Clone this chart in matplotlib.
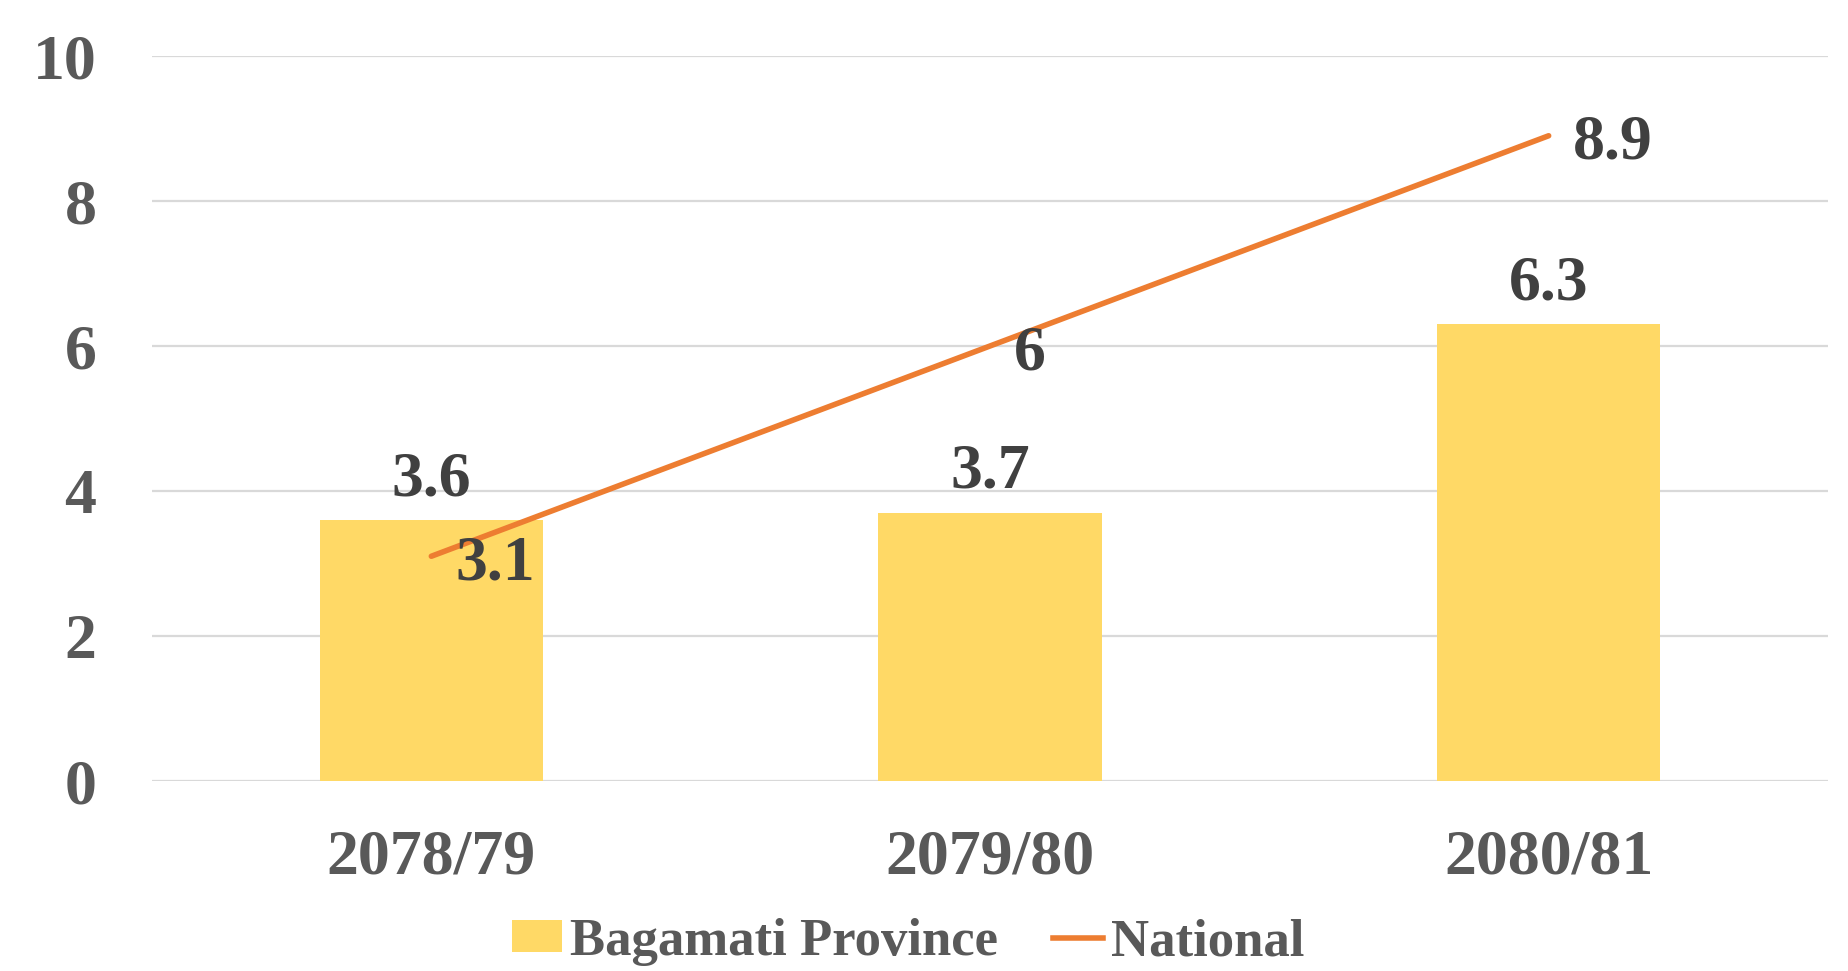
import matplotlib
matplotlib.use("Agg")
import matplotlib.pyplot as plt
from matplotlib.patches import Patch
from matplotlib.lines import Line2D

categories = ["2078/79", "2079/80", "2080/81"]
bagamati = [3.6, 3.7, 6.3]
national = [3.1, 6.0, 8.9]
national_labels = ["3.1", "6", "8.9"]
bagamati_labels = ["3.6", "3.7", "6.3"]
yticks = [0, 2, 4, 6, 8, 10]

BAR = "#FFD966"
LINE = "#ED7D31"
TICK = "#595959"
LABEL = "#404040"
FONT = ["Liberation Serif", "DejaVu Serif"]

plt.rcParams["font.family"] = FONT
plt.rcParams["font.weight"] = "bold"

fig = plt.figure(figsize=(18.48, 9.71), dpi=100)
ax = fig.add_axes([152/1848, 1-781/971, (1828-152)/1848, (781-56)/971])

x = list(range(len(categories)))
ax.bar(x, bagamati, width=0.4, color=BAR, zorder=2)
ax.plot(x, national, color=LINE, lw=4.0, solid_capstyle="round", zorder=3)

ax.set_xlim(-0.5, 2.5)
ax.set_ylim(0, 10)
ax.set_yticks(yticks)
ax.set_yticklabels([str(v) for v in yticks])
ax.set_xticks(x)
ax.set_xticklabels(categories)
ax.grid(axis="y", color="#D9D9D9", lw=1.6, zorder=0)
ax.set_axisbelow(True)
for s in ax.spines.values():
    s.set_visible(False)
ax.tick_params(axis="both", length=0, labelsize=46, labelcolor=TICK)
ax.tick_params(axis="y", pad=40)
ax.tick_params(axis="x", pad=35)
for lab in ax.get_xticklabels() + ax.get_yticklabels():
    lab.set_fontweight("bold")

for xi, v, t in zip(x, bagamati, bagamati_labels):
    ax.annotate(t, (xi, v), xytext=(0, 25), textcoords="offset pixels",
                ha="center", va="baseline", fontsize=46, fontweight="bold",
                color=LABEL, zorder=4)
for xi, v, t in zip(x, national, national_labels):
    ax.annotate(t, (xi, v), xytext=(24, -23), textcoords="offset pixels",
                ha="left", va="baseline", fontsize=46, fontweight="bold",
                color=LABEL, zorder=4)

handles = [Patch(facecolor=BAR, edgecolor="none", label="Bagamati Province"),
           Line2D([0], [0], color=LINE, lw=4.0, label="National")]
fig.legend(handles=handles, loc="center", bbox_to_anchor=(908/1848, 1-942/971),
           ncol=2, frameon=False, prop={"family": FONT, "weight": "bold", "size": 38},
           labelcolor=TICK, handlelength=0.95, handleheight=0.55,
           handletextpad=0.15, columnspacing=1.05, borderpad=0.2)

fig.savefig("out.png", dpi=100, facecolor="white")
